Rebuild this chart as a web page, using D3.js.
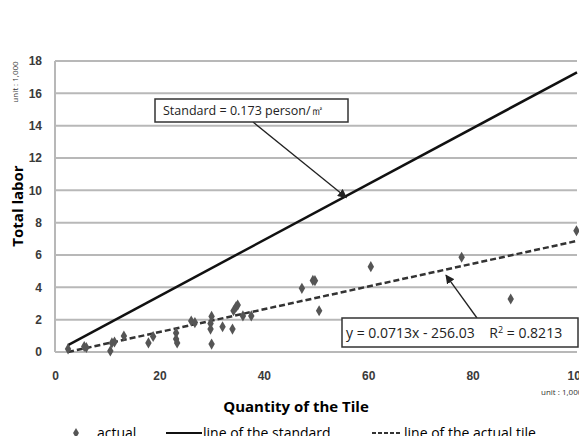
<!DOCTYPE html>
<html>
<head>
<meta charset="utf-8">
<script src="https://cdn.jsdelivr.net/npm/d3@7"></script>
<style>
  body { margin: 0; background: #fff; }
  svg { font-family: "Open Sans", "Noto Sans", sans-serif; }
</style>
</head>
<body>
<div id="chart"></div>
<script>
// values in thousands
const actualX = [2.5, 5.6, 6.0, 10.6, 10.9, 11.4, 13.2, 17.9, 18.8, 23.2, 23.2, 23.4, 26.1, 26.8,
  30.0, 29.8, 29.8, 30.0, 32.1, 34.0, 34.2, 34.7, 35.0, 36.0, 37.6, 47.3, 49.4, 49.8, 50.6,
  60.5, 77.9, 87.3, 99.9];
const actualY = [0.19, 0.34, 0.28, 0.06, 0.56, 0.62, 0.99, 0.56, 0.96, 1.18, 0.80, 0.56, 1.92, 1.82,
  2.2, 1.76, 1.42, 0.49, 1.56, 1.42, 2.55, 2.81, 2.9, 2.23, 2.23, 3.94, 4.43, 4.41, 2.55,
  5.28, 5.86, 3.28, 7.5];

const standardX = [2.5, 100];
const standardY = [0.43, 17.3];
const trendX = [2.5, 100];
const trendY = [0.0, 6.87];

const xTicks = [0, 20, 40, 60, 80, 100];
const yTicks = [0, 2, 4, 6, 8, 10, 12, 14, 16, 18];

const width = 579, height = 436;
const svg = d3.select('#chart').append('svg')
  .attr('width', width)
  .attr('height', height);

const x = d3.scaleLinear().domain([0, 100]).range([55, 577]);
const y = d3.scaleLinear().domain([0, 18]).range([352, 61]);

// gridlines
svg.append('g')
  .selectAll('line')
  .data(yTicks)
  .enter()
  .append('line')
  .attr('x1', x(0))
  .attr('x2', x(100))
  .attr('y1', d => y(d))
  .attr('y2', d => y(d))
  .attr('stroke', '#b8b8b8')
  .attr('stroke-width', 2);

// left border
svg.append('line')
  .attr('x1', x(0)).attr('x2', x(0))
  .attr('y1', y(0)).attr('y2', y(18))
  .attr('stroke', '#b8b8b8')
  .attr('stroke-width', 2);

// y axis labels
const yAxis = svg.append('g')
  .attr('transform', `translate(${x(0) - 13},0)`)
  .call(d3.axisLeft(y).tickValues(yTicks).tickSize(0).tickPadding(0));
yAxis.select('.domain').remove();
yAxis.selectAll('text')
  .style('font-size', '12px')
  .style('font-weight', 'bold')
  .style('fill', '#3a3a3a');

// x axis labels
const xAxis = svg.append('g')
  .attr('transform', `translate(0,${y(0) + 19})`)
  .call(d3.axisBottom(x).tickValues(xTicks).tickSize(0).tickPadding(0));
xAxis.select('.domain').remove();
xAxis.selectAll('text')
  .style('font-size', '12px')
  .style('font-weight', 'bold')
  .style('fill', '#3a3a3a');

// axis titles
svg.append('text')
  .attr('transform', `translate(23, 206) rotate(-90)`)
  .attr('text-anchor', 'middle')
  .style('font-size', '15px')
  .style('font-weight', 'bold')
  .text('Total labor');

svg.append('text')
  .attr('transform', `translate(18, 82) rotate(-90)`)
  .attr('text-anchor', 'middle')
  .style('font-size', '8px')
  .style('fill', '#333')
  .text('unit : 1,000');

svg.append('text')
  .attr('x', 296)
  .attr('y', 412)
  .attr('text-anchor', 'middle')
  .style('font-size', '15px')
  .style('font-weight', 'bold')
  .text('Quantity of the Tile');

svg.append('text')
  .attr('x', 541)
  .attr('y', 395)
  .style('font-size', '8px')
  .style('fill', '#333')
  .text('unit : 1,000');

// lines
const line = d3.line().x(d => x(d[0])).y(d => y(d[1]));

svg.append('path')
  .datum(d3.zip(standardX, standardY))
  .attr('d', line)
  .attr('fill', 'none')
  .attr('stroke', '#111')
  .attr('stroke-width', 2.5);

svg.append('path')
  .datum(d3.zip(trendX, trendY))
  .attr('d', line)
  .attr('fill', 'none')
  .attr('stroke', '#333')
  .attr('stroke-width', 2.5)
  .attr('stroke-dasharray', '6,3');

// points
const diamond = d3.symbol().type(d3.symbolDiamond).size(36);
svg.append('g')
  .selectAll('path')
  .data(d3.zip(actualX, actualY))
  .enter()
  .append('path')
  .attr('d', diamond)
  .attr('transform', d => `translate(${x(d[0])},${y(d[1])})`)
  .attr('fill', '#555');

// arrows
svg.append('defs').append('marker')
  .attr('id', 'arrow')
  .attr('viewBox', '0 0 10 10')
  .attr('refX', 9).attr('refY', 5)
  .attr('markerWidth', 7).attr('markerHeight', 7)
  .attr('orient', 'auto')
  .append('path')
  .attr('d', 'M0,0 L10,5 L0,10 z')
  .attr('fill', '#222');

svg.append('line')
  .attr('x1', 253).attr('y1', 122)
  .attr('x2', x(55.8)).attr('y2', y(9.55))
  .attr('stroke', '#222')
  .attr('stroke-width', 1.3)
  .attr('marker-end', 'url(#arrow)');

svg.append('line')
  .attr('x1', 477).attr('y1', 318)
  .attr('x2', x(74.9)).attr('y2', y(4.75))
  .attr('stroke', '#222')
  .attr('stroke-width', 1.3)
  .attr('marker-end', 'url(#arrow)');

// annotation boxes
svg.append('rect')
  .attr('x', 155).attr('y', 99)
  .attr('width', 193).attr('height', 23)
  .attr('fill', '#fff')
  .attr('stroke', '#333')
  .attr('stroke-width', 1.5);
svg.append('text')
  .attr('x', 163).attr('y', 115)
  .style('font-size', '12.5px')
  .style('fill', '#222')
  .text('Standard = 0.173  person/㎡');

svg.append('rect')
  .attr('x', 342).attr('y', 318)
  .attr('width', 236).attr('height', 29)
  .attr('fill', '#fff')
  .attr('stroke', '#333')
  .attr('stroke-width', 1.5);
svg.append('text')
  .attr('x', 346).attr('y', 338)
  .style('font-size', '14px')
  .style('fill', '#222')
  .html('y = 0.0713x - 256.03 &#160;&#160;&#160;R<tspan dy="-5" font-size="9px">2</tspan><tspan dy="5"> = 0.8213</tspan>');

// legend
const legend = svg.append('g').attr('transform', 'translate(0,436)');
legend.append('path')
  .attr('d', d3.symbol().type(d3.symbolDiamond).size(30))
  .attr('transform', 'translate(76,-3)')
  .attr('fill', '#555');
legend.append('text').attr('x', 97).attr('y', 2)
  .style('font-size', '14px').text('actual');
legend.append('line')
  .attr('x1', 166).attr('x2', 202).attr('y1', -3).attr('y2', -3)
  .attr('stroke', '#111').attr('stroke-width', 2);
legend.append('text').attr('x', 203).attr('y', 2)
  .style('font-size', '14px').text('line of the standard');
legend.append('line')
  .attr('x1', 372).attr('x2', 402).attr('y1', -3).attr('y2', -3)
  .attr('stroke', '#333').attr('stroke-width', 2)
  .attr('stroke-dasharray', '4,2');
legend.append('text').attr('x', 404).attr('y', 2)
  .style('font-size', '14px').text('line of the actual tile');
</script>
</body>
</html>
